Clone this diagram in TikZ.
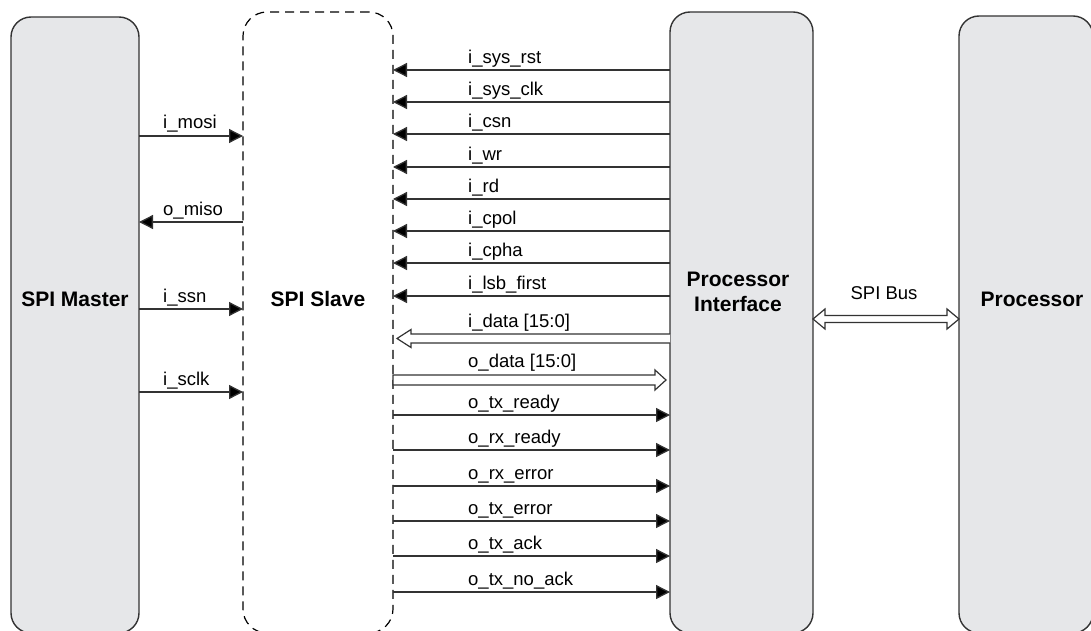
\documentclass[tikz,border=0pt]{standalone}
\usepackage{fontspec}
\setmainfont{Liberation Sans}
\usetikzlibrary{arrows.meta}
\definecolor{boxfill}{HTML}{E6E7E9}
\definecolor{edge}{HTML}{333333}
\tikzset{
  blk/.style={draw=edge, line width=1.4pt, fill=boxfill, rounded corners=20pt, inner sep=0pt, outer sep=0pt},
  dblk/.style={draw=black, line width=1.2pt, dash pattern=on 9pt off 6pt, rounded corners=24pt, inner sep=0pt, outer sep=0pt},
  title/.style={font=\bfseries\fontsize{21}{25}\selectfont, align=center, inner sep=0pt},
  lbl/.style={font=\fontsize{18.5}{21}\selectfont, inner sep=0pt, anchor=base west},
  sig/.style={draw=edge, line width=1.3pt, -{Triangle[length=14pt,width=14pt,fill=black]}},
  hollow/.style={draw=edge, line width=1.2pt, fill=white, line join=miter},
}
\begin{document}
\begin{tikzpicture}[x=1pt,y=-1pt]
\clip (0,0) rectangle (1091,631);
\useasboundingbox (0,0) rectangle (1091,631);
% blocks
\node[blk, minimum width=128pt, minimum height=616pt] (ma) at (75,325) {};
\node[dblk, minimum width=150pt, minimum height=621pt] (sl) at (318,322.5) {};
\node[blk, minimum width=143pt, minimum height=621pt] (pi) at (741.5,322.5) {};
\node[blk, minimum width=134pt, minimum height=617pt] (pr) at (1026,324.5) {};
% titles
\node[title] (tma) at (75,299) {SPI Master};
\node[title] (tsl) at (318,299) {SPI Slave};
\node[title] (tpi) at (738,292) {Processor\\Interface};
\node[title] (tpr) at (1032,299) {Processor};
% master <-> slave
\draw[sig] (ma.east |- 0,136) -- (sl.west |- 0,136);
\draw[sig] (sl.west |- 0,222) -- (ma.east |- 0,222);
\draw[sig] (ma.east |- 0,309) -- (sl.west |- 0,309);
\draw[sig] (ma.east |- 0,392) -- (sl.west |- 0,392);
\node[lbl] (l1) at (163,129) {i\_mosi};
\node[lbl] (l2) at (163,215) {o\_miso};
\node[lbl] (l3) at (163,302) {i\_ssn};
\node[lbl] (l4) at (163,385) {i\_sclk};
% processor interface -> slave
\foreach \y/\t [count=\i] in {70/i\_sys\_rst,102/i\_sys\_clk,134/i\_csn,167/i\_wr,199/i\_rd,231/i\_cpol,263/i\_cpha,296/i\_lsb\_first}{
  \draw[sig] (pi.west |- 0,\y) -- (sl.east |- 0,\y);
  \node[lbl] (in\i) at (468,\y-6.5) {\t};
}
% slave -> processor interface
\foreach \y/\t [count=\i] in {415/o\_tx\_ready,450/o\_rx\_ready,486/o\_rx\_error,521/o\_tx\_error,556/o\_tx\_ack,592/o\_tx\_no\_ack}{
  \draw[sig] (sl.east |- 0,\y) -- (pi.west |- 0,\y);
  \node[lbl] (out\i) at (468,\y-6.5) {\t};
}
% bus arrows (hollow)
\coordinate (idb) at (397,338.5);
\draw[hollow] (670,334) -- (411,334) -- (411,329.5) -- (idb) -- (411,347.5) -- (411,343) -- (670,343);
\node[lbl] (lid) at (468,327) {i\_data [15:0]};
\coordinate (odb) at (666,380);
\draw[hollow] (393,375) -- (655,375) -- (655,370) -- (odb) -- (655,390) -- (655,385) -- (393,385) -- cycle;
\node[lbl] (lod) at (468,367) {o\_data [15:0]};
\coordinate (ba) at (813,319);
\coordinate (bb) at (959,319);
\draw[hollow] (ba) -- (825,309) -- (825,315.5) -- (947,315.5) -- (947,309) -- (bb) -- (947,329) -- (947,322.5) -- (825,322.5) -- (825,329) -- cycle;
\node[font=\fontsize{18.5}{21}\selectfont, inner sep=0pt] (lbus) at (884,293) {SPI Bus};
\end{tikzpicture}
\end{document}
